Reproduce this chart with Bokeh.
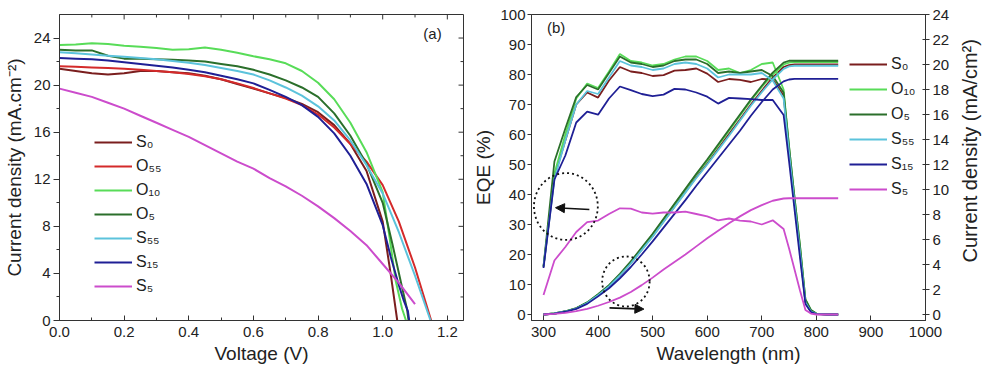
import math
from bokeh.plotting import figure
from bokeh.models import (Range1d, LinearAxis, FixedTicker, Legend, LegendItem,
                          Arrow, NormalHead, Label, NumeralTickFormatter)
from bokeh.layouts import row
from bokeh.embed import file_html
from bokeh.resources import INLINE

FONT = "Liberation Sans"

# ---------------- Panel (a): J-V curves ----------------
S0_V = [0, .05, .1, .15, .2, .25, .3, .35, .4, .45, .5, .55, .6, .65, .7, .75, .8, .85, .9, .95, 1.0, 1.025, 1.045]
S0_J = [21.4, 21.2, 21.0, 20.9, 21.0, 21.2, 21.2, 21.1, 21.0, 20.8, 20.5, 20.1, 19.7, 19.3, 18.9, 18.4, 17.7, 16.6, 15.0, 12.7, 8.4, 3.9, 0]

O55_V = [0, .05, .1, .15, .2, .25, .3, .35, .4, .45, .5, .55, .6, .65, .7, .75, .8, .85, .9, .95, 1.0, 1.05, 1.1, 1.15]
O55_J = [21.6, 21.55, 21.5, 21.45, 21.4, 21.3, 21.2, 21.1, 20.95, 20.75, 20.5, 20.15, 19.75, 19.3, 18.85, 18.3, 17.5, 16.4, 15.0, 13.5, 11.5, 8.4, 4.5, 0]

O10_V = [0, .05, .1, .15, .2, .25, .3, .35, .4, .45, .5, .55, .6, .65, .7, .75, .8, .85, .9, .95, 1.0, 1.02, 1.04, 1.06, 1.072]
O10_J = [23.4, 23.45, 23.55, 23.5, 23.35, 23.25, 23.15, 23.0, 23.05, 23.2, 23.0, 22.75, 22.45, 22.2, 21.85, 21.2, 20.2, 18.8, 16.8, 14.3, 10.9, 7.3, 3.4, 1.0, 0]

O5_V = [0, .05, .1, .15, .2, .25, .3, .35, .4, .45, .5, .55, .6, .65, .7, .75, .8, .85, .9, .95, 1.0, 1.03, 1.06, 1.075, 1.08]
O5_J = [23.0, 22.95, 22.95, 22.5, 22.25, 22.25, 22.2, 22.15, 22.1, 22.0, 21.8, 21.6, 21.3, 20.9, 20.4, 19.8, 19.0, 17.6, 15.7, 13.3, 10.0, 6.5, 2.8, 1.0, 0]

S55_V = [0, .05, .1, .15, .2, .25, .3, .35, .4, .45, .5, .55, .6, .65, .7, .75, .8, .85, .9, .95, 1.0, 1.05, 1.1, 1.148]
S55_J = [22.8, 22.7, 22.6, 22.5, 22.4, 22.3, 22.2, 22.05, 21.9, 21.7, 21.45, 21.2, 20.9, 20.4, 19.8, 19.1, 18.2, 17.0, 15.3, 13.2, 10.8, 7.5, 3.8, 0]

S15_V = [0, .05, .1, .15, .2, .25, .3, .35, .4, .45, .5, .55, .6, .65, .7, .75, .8, .85, .9, .95, 1.0, 1.025, 1.05, 1.065, 1.078, 1.082]
S15_J = [22.3, 22.25, 22.2, 22.1, 21.95, 21.8, 21.65, 21.5, 21.3, 21.1, 20.8, 20.5, 20.15, 19.6, 19.0, 18.3, 17.3, 15.9, 14.0, 11.6, 8.1, 5.4, 3.0, 1.7, 0.8, 0]

S5_V = [0, .05, .1, .15, .2, .25, .3, .35, .4, .45, .5, .55, .6, .65, .7, .75, .8, .85, .9, .95, 1.0, 1.05, 1.1]
S5_J = [19.7, 19.35, 19.0, 18.5, 18.0, 17.4, 16.8, 16.2, 15.6, 14.9, 14.2, 13.5, 12.9, 12.1, 11.4, 10.6, 9.7, 8.7, 7.6, 6.4, 4.8, 3.2, 1.4]

V_TICKS = [0, .2, .4, .6, .8, 1.0, 1.2]
V_MINOR = [.1, .3, .5, .7, .9, 1.1]
J_TICKS = [0, 4, 8, 12, 16, 20, 24]
J_MINOR = [2, 6, 10, 14, 18, 22]

# ---------------- Panel (b): EQE and integrated current ----------------
WL = [300, 320, 340, 360, 380, 400, 420, 440, 460, 480, 500, 520, 540, 560, 580, 600,
      620, 640, 660, 680, 700, 720, 740, 750, 760, 770, 780, 790, 800, 820, 840]

EQE_S0 = [16, 46, 58, 70, 74, 72.3, 78, 82.5, 81, 80.5, 79.5, 79.8, 81.3, 81.5, 82, 80.3,
          77.5, 78.5, 78.2, 77.5, 78.5, 78.3, 73, 54, 37, 21, 4, 1, 0.2, 0, 0]
EQE_O10 = [16, 47, 60, 72, 77, 75.5, 81, 86.8, 84.5, 84, 83, 83.5, 85, 86, 86, 84.5,
           81.5, 82, 80.5, 81.5, 83.5, 84, 75, 56, 39, 23, 5, 1.5, 0.3, 0, 0]
EQE_O5 = [16, 51, 62, 72.5, 76.5, 75, 80.5, 86, 84, 83.5, 82.5, 83, 84.5, 85, 85, 83.5,
          80.5, 81, 80.5, 81, 81.5, 79.5, 74, 56, 39, 23, 5, 1.5, 0.3, 0, 0]
EQE_S55 = [16, 45, 58, 70, 74.5, 73.5, 79, 84.5, 83, 82.5, 81.5, 82, 83.5, 84, 83.5, 82,
           79, 80, 80, 80, 80.5, 78, 72, 54, 37, 21, 4, 1, 0.2, 0, 0]
EQE_S15 = [15.5, 45, 53, 64, 67.6, 66.6, 72, 76, 74.8, 73.5, 72.8, 73.3, 75.2, 75, 74, 72.6,
           70.3, 72.2, 72, 71.8, 71.5, 71.5, 66.5, 51, 35, 19, 3.5, 0.8, 0.1, 0, 0]
EQE_S5 = [6.5, 18, 22.5, 27.5, 30.8, 31.3, 33.5, 35.4, 35.3, 34, 33.6, 34, 34, 34.3, 33.5, 32.7,
          31.4, 32, 31.3, 31, 30, 31.4, 28.5, 22, 15, 8, 1.5, 0.3, 0, 0, 0]

JSC_S0 = [0, .08, .24, .49, .93, 1.57, 2.26, 3.14, 4.1, 5.2, 6.27, 7.44, 8.62, 9.8, 10.98, 12.07,
          13.25, 14.43, 15.6, 16.8, 17.9, 18.95, 19.8, 19.95, 20.0, 20.0, 20.0, 20.0, 20.0, 20.0, 20.0]
JSC_O10 = [0, .08, .25, .5, .95, 1.6, 2.3, 3.2, 4.2, 5.3, 6.4, 7.6, 8.8, 10.0, 11.2, 12.3,
           13.5, 14.7, 15.9, 17.1, 18.2, 19.2, 20.0, 20.15, 20.2, 20.2, 20.2, 20.2, 20.2, 20.2, 20.2]
JSC_O5 = [0, .08, .26, .52, .97, 1.63, 2.35, 3.25, 4.25, 5.35, 6.45, 7.65, 8.85, 10.05, 11.25, 12.4,
          13.6, 14.8, 16.0, 17.2, 18.3, 19.35, 20.15, 20.3, 20.3, 20.3, 20.3, 20.3, 20.3, 20.3, 20.3]
JSC_S55 = [0, .08, .24, .48, .92, 1.55, 2.24, 3.12, 4.08, 5.15, 6.22, 7.4, 8.58, 9.75, 10.92, 12.0,
           13.15, 14.3, 15.5, 16.7, 17.78, 18.8, 19.65, 19.85, 19.9, 19.9, 19.9, 19.9, 19.9, 19.9, 19.9]
JSC_S15 = [0, .07, .22, .45, .85, 1.45, 2.1, 2.9, 3.8, 4.8, 5.85, 6.95, 8.05, 9.15, 10.3, 11.4,
           12.5, 13.6, 14.7, 15.9, 17.0, 18.0, 18.65, 18.8, 18.85, 18.85, 18.85, 18.85, 18.85, 18.85, 18.85]
JSC_S5 = [0, .05, .13, .27, .45, .7, 1.0, 1.35, 1.8, 2.35, 2.95, 3.6, 4.2, 4.8, 5.45, 6.1,
          6.7, 7.3, 7.85, 8.35, 8.75, 9.1, 9.28, 9.3, 9.3, 9.3, 9.3, 9.3, 9.3, 9.3, 9.3]

COLORS = {"S0": "#7a1e1e", "O55": "#d42a2a", "O10": "#58dc58", "O5": "#2b6f2b",
          "S55": "#5cc3dc", "S15": "#1f1f95", "S5": "#cc4ccc"}
LABELS = {"S0": "S\u2080", "O55": "O\u2085\u2085", "O10": "O\u2081\u2080", "O5": "O\u2085",
          "S55": "S\u2085\u2085", "S15": "S\u2081\u2085", "S5": "S\u2085"}

# callout annotations (panel b): ellipse centres/sizes
CIRCLE_X = [341, 451]
CIRCLE_Y = [36, 11]
CIRCLE_W = [117, 87]
CIRCLE_H = [22.3, 16.7]

AX_COLOR = "#333333"
TXT_COLOR = "#222222"


def style_axis(ax, size="15px"):
    ax.major_label_text_font = FONT
    ax.major_label_text_font_size = size
    ax.major_label_text_color = TXT_COLOR
    ax.axis_label_text_font = FONT
    ax.axis_label_text_font_size = "19px"
    ax.axis_label_text_font_style = "normal"
    ax.axis_label_text_color = TXT_COLOR
    ax.axis_line_color = AX_COLOR
    ax.major_tick_line_color = AX_COLOR
    ax.minor_tick_line_color = AX_COLOR


# ---------- figure (a) ----------
pa = figure(width=470, height=375, x_range=Range1d(0, 1.25), y_range=Range1d(0, 26),
            output_backend="svg", toolbar_location=None,
            min_border_left=57, min_border_right=7, min_border_top=14, min_border_bottom=52)
pa.xgrid.visible = False
pa.ygrid.visible = False
pa.outline_line_color = AX_COLOR

xa = pa.xaxis[0]
xa.ticker = FixedTicker(ticks=V_TICKS, minor_ticks=V_MINOR)
xa.formatter = NumeralTickFormatter(format="0.0")
xa.axis_label = "Voltage (V)"
style_axis(xa)
xa.major_tick_in = 5
xa.major_tick_out = 0
xa.minor_tick_in = 3
xa.minor_tick_out = 0
xa.major_label_standoff = 6
xa.axis_label_standoff = 3

ya = pa.yaxis[0]
ya.ticker = FixedTicker(ticks=J_TICKS, minor_ticks=J_MINOR)
ya.axis_label = "Current density (mA.cm\u207b\u00b2)"
style_axis(ya)
ya.major_tick_out = 6
ya.major_tick_in = 0
ya.minor_tick_out = 3
ya.minor_tick_in = 0
ya.major_label_standoff = 3
ya.axis_label_standoff = 6

# mirrored inward ticks on the top and right frame edges of panel (a)
pa.segment(x0=V_TICKS + V_MINOR, y0=[26] * 13, x1=V_TICKS + V_MINOR,
           y1=[25.58] * 7 + [25.75] * 6, line_color=AX_COLOR, line_width=1)
pa.segment(x0=[1.25] * 13, y0=J_TICKS + J_MINOR,
           x1=[1.25 - 0.0154] * 7 + [1.25 - 0.0092] * 6, y1=J_TICKS + J_MINOR,
           line_color=AX_COLOR, line_width=1)

items_a = []
for key, V, J in [("S0", S0_V, S0_J), ("O55", O55_V, O55_J), ("O10", O10_V, O10_J),
                  ("O5", O5_V, O5_J), ("S55", S55_V, S55_J), ("S15", S15_V, S15_J),
                  ("S5", S5_V, S5_J)]:
    r = pa.line(V, J, line_color=COLORS[key], line_width=2)
    items_a.append(LegendItem(label=LABELS[key], renderers=[r]))

leg_a = Legend(items=items_a, location=(35, 24), padding=0, margin=0, spacing=4,
               glyph_width=38, glyph_height=20, label_height=20, label_standoff=4,
               label_text_font=FONT, label_text_font_size="16px", label_text_color=TXT_COLOR,
               border_line_alpha=0, background_fill_alpha=0)
pa.add_layout(leg_a)
pa.add_layout(Label(x=1.154, y=24.4, text="(a)", text_align="center", text_baseline="middle",
                    text_font=FONT, text_font_size="15px", text_color=TXT_COLOR))

# ---------- figure (b) ----------
pb = figure(width=488, height=375, x_range=Range1d(278, 1000), y_range=Range1d(-2, 100),
            output_backend="svg", toolbar_location=None,
            min_border_left=54, min_border_right=33, min_border_top=14, min_border_bottom=55)
pb.xgrid.visible = False
pb.ygrid.visible = False
pb.outline_line_color = AX_COLOR
pb.extra_y_ranges = {"j": Range1d(-0.48, 24)}

xb = pb.xaxis[0]
xb.ticker = FixedTicker(ticks=list(range(300, 1001, 100)))
xb.axis_label = "Wavelength (nm)"
style_axis(xb)
xb.major_tick_in = 5
xb.major_tick_out = 0
xb.major_label_standoff = 6
xb.axis_label_standoff = 3

yb = pb.yaxis[0]
yb.ticker = FixedTicker(ticks=list(range(0, 101, 10)))
yb.axis_label = "EQE (%)"
style_axis(yb)
yb.major_tick_out = 4
yb.major_tick_in = 0
yb.major_label_standoff = 2
yb.axis_label_standoff = 3

rb = LinearAxis(y_range_name="j", ticker=FixedTicker(ticks=list(range(0, 25, 2))))
style_axis(rb)
rb.major_tick_out = 4
rb.major_tick_in = 3
rb.major_label_standoff = 3
pb.add_layout(rb, "right")

items_b = []
for key, E, J in [("S0", EQE_S0, JSC_S0), ("O10", EQE_O10, JSC_O10), ("O5", EQE_O5, JSC_O5),
                  ("S55", EQE_S55, JSC_S55), ("S15", EQE_S15, JSC_S15), ("S5", EQE_S5, JSC_S5)]:
    r = pb.line(WL, E, line_color=COLORS[key], line_width=1.8)
    pb.line(WL, J, line_color=COLORS[key], line_width=1.8, y_range_name="j")
    items_b.append(LegendItem(label=LABELS[key], renderers=[r]))

pb.ellipse(x=CIRCLE_X, y=CIRCLE_Y, width=CIRCLE_W, height=CIRCLE_H, fill_color=None,
           line_color="#111111", line_dash="2 3", line_width=1.8)
pb.add_layout(Arrow(end=NormalHead(size=9, fill_color="#111111", line_color="#111111"),
                    x_start=384, y_start=35.0, x_end=322, y_end=35.6,
                    line_color="#111111", line_width=1.6))
pb.add_layout(Arrow(end=NormalHead(size=9, fill_color="#111111", line_color="#111111"),
                    x_start=421, y_start=2.2, x_end=484, y_end=1.8,
                    line_color="#111111", line_width=1.6))

leg_b = Legend(items=items_b, location=(318, 121), padding=0, margin=0, spacing=5,
               glyph_width=38, glyph_height=20, label_height=20, label_standoff=4,
               label_text_font=FONT, label_text_font_size="16px", label_text_color=TXT_COLOR,
               border_line_alpha=0, background_fill_alpha=0)
pb.add_layout(leg_b)
pb.add_layout(Label(x=323, y=95.7, text="(b)", text_align="center", text_baseline="middle",
                    text_font=FONT, text_font_size="15px", text_color=TXT_COLOR))

# ---------- narrow strip holding the right-axis title (reads bottom-to-top) ----------
pc = figure(width=25, height=375, x_range=Range1d(0, 25), y_range=Range1d(0, 375),
            output_backend="svg", toolbar_location=None,
            min_border_left=0, min_border_right=0, min_border_top=0, min_border_bottom=0)
pc.axis.visible = False
pc.xgrid.visible = False
pc.ygrid.visible = False
pc.outline_line_color = None
pc.add_layout(Label(x=11, y=208, angle=math.pi / 2,
                    text="Current density (mA/cm\u00b2)", text_align="center",
                    text_baseline="middle", text_font=FONT, text_font_size="20px",
                    text_color=TXT_COLOR))

layout = row(pa, pb, pc)
open("out.html", "w").write(file_html(layout, INLINE))
